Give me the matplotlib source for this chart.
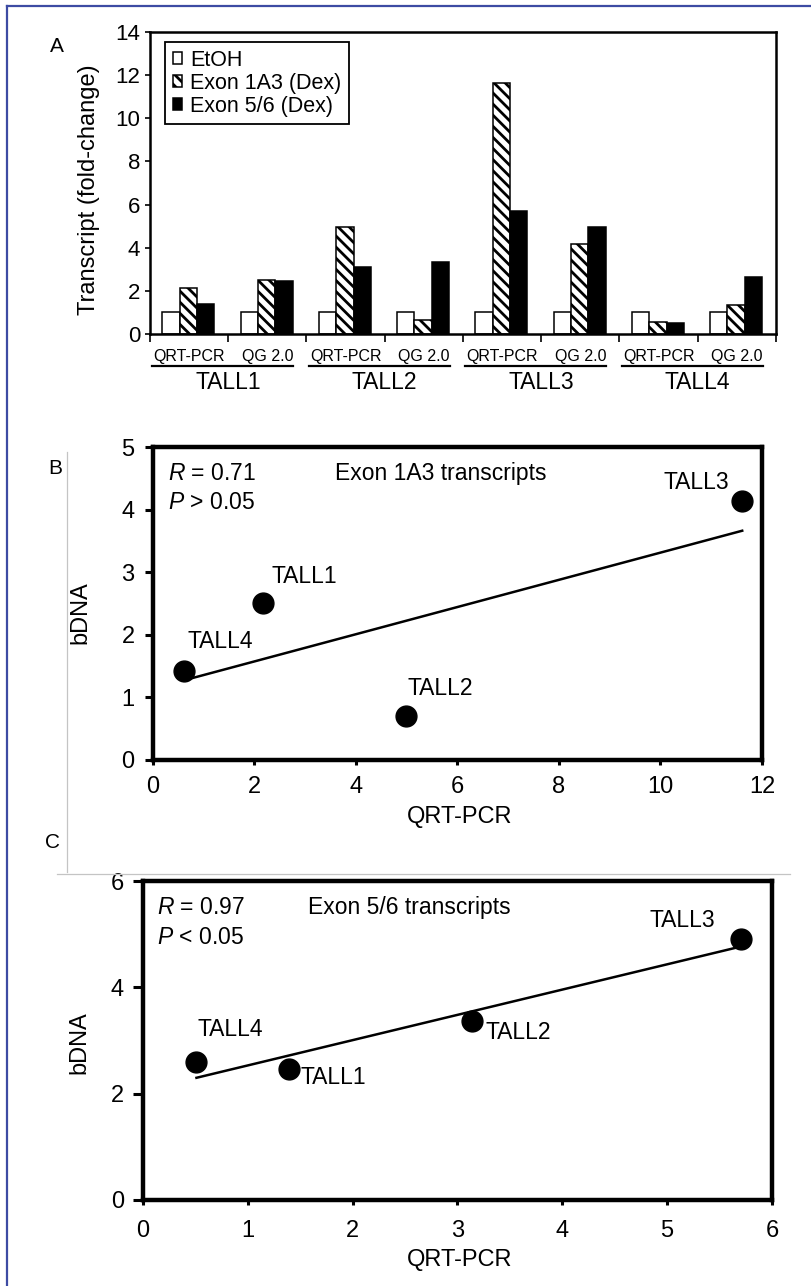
import numpy as np
import matplotlib
matplotlib.use("Agg")
import matplotlib.pyplot as plt
from matplotlib.lines import Line2D
from matplotlib.transforms import blended_transform_factory

W, H = 812, 1286

# ── Panel A: fold-change per cell line / method ──────────────────────────────
tall_lines   = ["TALL1", "TALL2", "TALL3", "TALL4"]
methods      = ["QRT-PCR", "QG 2.0"]
series_names = ["EtOH", "Exon 1A3 (Dex)", "Exon 5/6 (Dex)"]
etoh     = [1.0, 1.0, 1.0, 1.0, 1.0, 1.0, 1.0, 1.0]
exon_1a3 = [2.14, 2.50, 4.97, 0.66, 11.64, 4.15, 0.57, 1.35]
exon_56  = [1.38, 2.48, 3.11, 3.34, 5.68, 4.95, 0.50, 2.62]

# ── Panel B: exon 1A3, QRT-PCR vs bDNA ───────────────────────────────────────
pt_labels = ["TALL1", "TALL2", "TALL3", "TALL4"]
b_qrt  = [2.17, 4.98, 11.61, 0.61]
b_bdna = [2.51, 0.70, 4.14, 1.42]
b_stats = ["$R$ = 0.71", "$P$ > 0.05"]
b_title = "Exon 1A3 transcripts"

# ── Panel C: exon 5/6, QRT-PCR vs bDNA ───────────────────────────────────────
c_qrt  = [1.39, 3.14, 5.70, 0.51]
c_bdna = [2.46, 3.37, 4.90, 2.60]
c_stats = ["$R$ = 0.97", "$P$ < 0.05"]
c_title = "Exon 5/6 transcripts"

plt.rcParams["font.family"] = ["Liberation Sans", "DejaVu Sans"]
plt.rcParams["mathtext.fontset"] = "custom"
plt.rcParams["mathtext.rm"] = "Liberation Sans"
plt.rcParams["mathtext.it"] = "Liberation Sans:italic"
plt.rcParams["hatch.linewidth"] = 2.0

fig = plt.figure(figsize=(W / 100, H / 100), dpi=100, facecolor="white")


def ftext(x, y, s, **kw):
    fig.text(x / W, 1 - y / H, s, **kw)


def fline(xs, ys, **kw):
    fig.add_artist(Line2D([v / W for v in xs], [1 - v / H for v in ys],
                          transform=fig.transFigure, **kw))


# ── Panel A ──────────────────────────────────────────────────────────────────
axA = fig.add_axes([150 / W, 1 - 334 / H, 626 / W, 302 / H])
n = len(etoh)
x = np.arange(n) + 0.49
w = 0.222
axA.bar(x - w, etoh, w, color="white", edgecolor="black", lw=1.1,
        label=series_names[0])
axA.bar(x, exon_1a3, w, color="white", edgecolor="black", lw=1.1,
        hatch="\\\\\\", label=series_names[1])
axA.bar(x + w, exon_56, w, color="black", edgecolor="black", lw=1.1,
        label=series_names[2])
axA.set_xlim(0, n)
axA.set_ylim(0, 14)
axA.set_yticks(range(0, 15, 2))
axA.set_xticks(range(n + 1))
axA.set_xticklabels([])
axA.tick_params(axis="y", length=3.6, width=1.2, pad=3.5, labelsize=16)
axA.tick_params(axis="x", length=5.8, width=1.2)
for s in axA.spines.values():
    s.set_linewidth(1.8)

leg = axA.legend(loc="upper left", bbox_to_anchor=(0.024, 0.967),
                 borderaxespad=0, fontsize=15.5, fancybox=False,
                 framealpha=1, edgecolor="black", handlelength=0.45,
                 handleheight=0.5, handletextpad=0.35, labelspacing=0.1,
                 borderpad=0.35)
leg.get_frame().set_linewidth(1.3)

trA = blended_transform_factory(axA.transData, axA.transAxes)
for i in range(n):
    axA.text(i + 0.5, -0.073, methods[i % 2], transform=trA, ha="center",
             va="center", fontsize=11.5)
for k, name in enumerate(tall_lines):
    axA.add_line(Line2D([2 * k + 0.03, 2 * k + 1.83], [-0.106, -0.106],
                        transform=trA, color="black", lw=1.6, clip_on=False))
    axA.text(2 * k + 1, -0.159, name, transform=trA, ha="center",
             va="center", fontsize=16.5)

ftext(89, 190, "Transcript (fold-change)", rotation=90, ha="center",
      va="center", fontsize=17)
ftext(57, 47, "A", ha="center", va="center", fontsize=15)


# ── Scatter panels ───────────────────────────────────────────────────────────
def scatter_panel(rect, xs, ys, stats, title, offsets, xlim, ylim, xticks,
                  yticks, ytick_len, ypad, xpad, stat_x, title_x):
    ax = fig.add_axes(rect)
    ax.plot(xs, ys, "o", color="black", ms=15, zorder=3)
    fit = np.polyfit(xs, ys, 1)
    xr = np.array([min(xs), max(xs)])
    ax.plot(xr, np.polyval(fit, xr), color="black", lw=1.8, zorder=2)
    for lab, px, py in zip(pt_labels, xs, ys):
        dx, dy, ha = offsets[lab]
        ax.annotate(lab, (px, py), xytext=(dx * 0.72, dy * 0.72),
                    textcoords="offset points", ha=ha, va="center",
                    fontsize=16.5)
    ax.text(stat_x, 0.916, stats[0], transform=ax.transAxes, ha="left",
            va="center", fontsize=16.5)
    ax.text(stat_x, 0.822, stats[1], transform=ax.transAxes, ha="left",
            va="center", fontsize=16.5)
    ax.text(title_x, 0.916, title, transform=ax.transAxes, ha="left",
            va="center", fontsize=16.5)
    ax.set_xlim(*xlim)
    ax.set_ylim(*ylim)
    ax.set_xticks(xticks)
    ax.set_yticks(yticks)
    ax.tick_params(axis="y", length=ytick_len, width=2.2, pad=ypad,
                   labelsize=17)
    ax.tick_params(axis="x", length=3.6, width=2.2, pad=xpad, labelsize=17)
    for s in ax.spines.values():
        s.set_linewidth(3.2)
    return ax


b_offsets = {"TALL1": (8.7, 26.7, "left"), "TALL2": (2, 28, "left"),
             "TALL3": (-13, 18, "right"), "TALL4": (4, 30, "left")}
scatter_panel([153 / W, 1 - 760 / H, 609 / W, 313 / H], b_qrt, b_bdna,
              b_stats, b_title, b_offsets, (0, 12), (0, 5),
              range(0, 13, 2), range(0, 6), 5.8, 7.5, 8.0, 0.025, 0.299)
ftext(460, 817, "QRT-PCR", ha="center", va="center", fontsize=17)
ftext(80, 613, "bDNA", rotation=90, ha="center", va="center", fontsize=17)
ftext(55, 469, "B", ha="center", va="center", fontsize=15)

c_offsets = {"TALL1": (11.7, -8.7, "left"), "TALL2": (13.3, -11.3, "left"),
             "TALL3": (-25.7, 19.3, "right"), "TALL4": (1.3, 32.7, "left")}
scatter_panel([143 / W, 1 - 1200 / H, 629 / W, 319 / H], c_qrt, c_bdna,
              c_stats, c_title, c_offsets, (0, 6), (0, 6),
              range(0, 7), range(0, 7, 2), 7.2, 6.5, 11.0, 0.022, 0.262)
ftext(460, 1260, "QRT-PCR", ha="center", va="center", fontsize=17)
ftext(79, 1043, "bDNA", rotation=90, ha="center", va="center", fontsize=17)
ftext(53, 842, "C", ha="center", va="center", fontsize=15)

# ── Frame lines of the original layout ───────────────────────────────────────
fline([67, 67], [452, 872], color="#c4c4c4", lw=0.9)
fline([57, 790], [874, 874], color="#c4c4c4", lw=0.9)
fline([7, 7], [6, H], color="#3d4ba3", lw=1.6)
fline([7, W], [6, 6], color="#3d4ba3", lw=1.6)

fig.savefig("out.png", dpi=100, facecolor="white")
